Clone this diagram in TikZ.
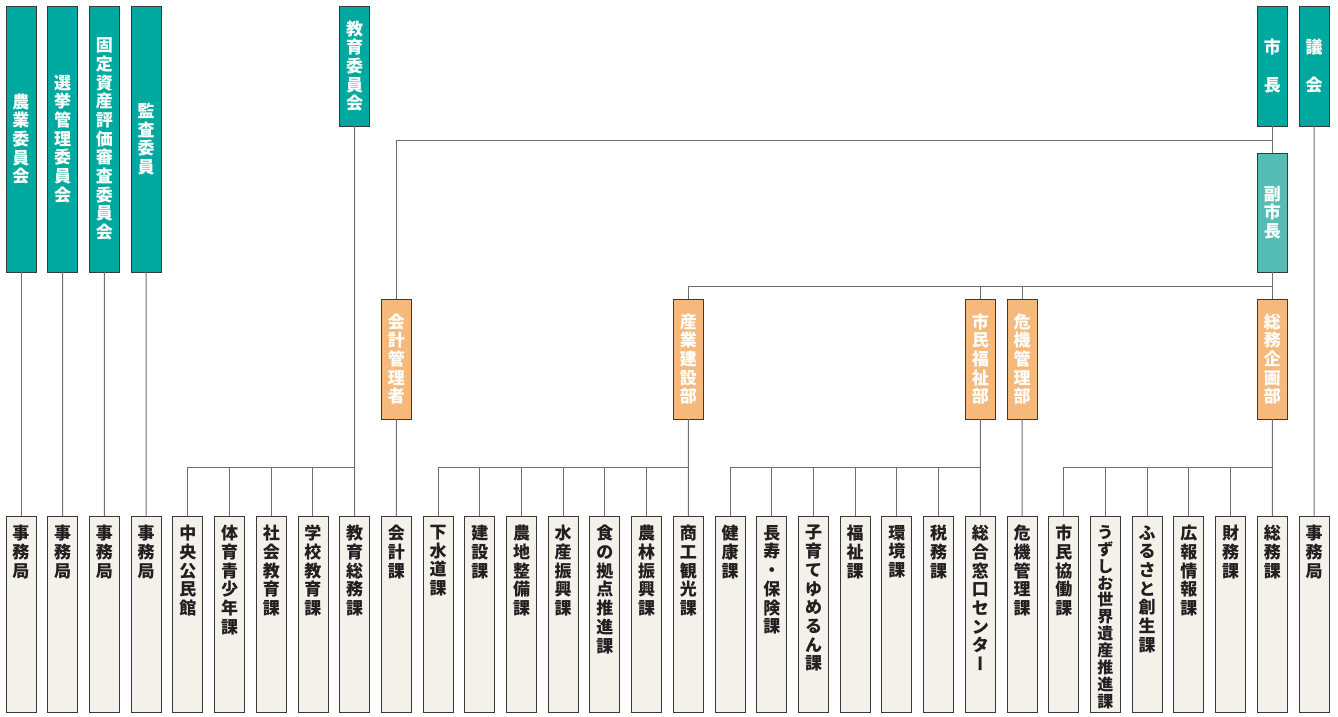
\documentclass[tikz,border=0pt]{standalone}
\usepackage{fontspec}
\setmainfont{Noto Sans CJK JP}
\usetikzlibrary{calc}
\definecolor{tealA}{HTML}{00A99F}
\definecolor{tealB}{HTML}{55BDB5}
\definecolor{orng}{HTML}{F6B97C}
\definecolor{cream}{HTML}{F4F1EA}
\definecolor{edge}{HTML}{3A3A3A}
\definecolor{wire}{HTML}{6E6E6E}
\definecolor{ink}{HTML}{231F20}
\newcommand\fnt{\fontsize{17}{18.7}\selectfont\bfseries}
\tikzset{
 vbox/.style={draw=edge, line width=0.9pt, minimum width=30pt, inner sep=0pt, outer sep=0pt, align=center},
 topbox/.style={vbox, fill=tealA, text=white, minimum height=266pt, font=\fnt},
 shortbox/.style={vbox, fill=tealA, text=white, minimum height=120pt, font=\fnt},
 vicebox/.style={vbox, fill=tealB, text=white, minimum height=119pt, font=\fnt},
 deptbox/.style={vbox, fill=orng, text=white, minimum height=120pt, font=\fnt},
 lowbox/.style={vbox, fill=cream, minimum height=196pt},
 lowtext/.style={anchor=north, inner sep=0pt, align=center, text=ink, font=\fnt},
 wire/.style={draw=wire, line width=1pt}
}
\newcommand\lowunit[3]{%
 \node[lowbox] (#1) at ({21+(#2-1)*41.71},614) {};
 \node[lowtext] (#1t) at ([yshift=-9pt]#1.north) {#3};}
\newcommand\vbar{{\addfontfeature{RawFeature=+vert}ー}}
\begin{document}
\begin{tikzpicture}[x=1pt,y=-1pt]
\useasboundingbox (0,0) rectangle (1338,716);
% top committees
\node[topbox] (t1) at (21,139) {農\\業\\委\\員\\会};
\node[topbox] (t2) at (62.7,139) {選\\挙\\管\\理\\委\\員\\会};
\node[topbox] (t3) at (104.4,139) {固\\定\\資\\産\\評\\価\\審\\査\\委\\員\\会};
\node[topbox] (t4) at (146.1,139) {監\\査\\委\\員};
\node[shortbox] (kyoi) at (354.7,66) {教\\育\\委\\員\\会};
\node[shortbox, font=\fontsize{17}{37.5}\selectfont\bfseries] (mayor) at (1272.3,66) {市\\長};
\node[shortbox, font=\fontsize{17}{37.5}\selectfont\bfseries] (gikai) at (1314,66) {議\\会};
\node[vicebox] (vice) at (1272.3,212.5) {副\\市\\長};
% departments
\node[deptbox] (kaikei) at (396.4,359) {会\\計\\管\\理\\者};
\node[deptbox] (sangyo) at (688.4,359) {産\\業\\建\\設\\部};
\node[deptbox] (fukushi) at (980.3,359) {市\\民\\福\\祉\\部};
\node[deptbox] (kiki) at (1022,359) {危\\機\\管\\理\\部};
\node[deptbox] (somu) at (1272.3,359) {総\\務\\企\\画\\部};
% bottom units
\lowunit{b1}{1}{事\\務\\局}
\lowunit{b2}{2}{事\\務\\局}
\lowunit{b3}{3}{事\\務\\局}
\lowunit{b4}{4}{事\\務\\局}
\lowunit{b5}{5}{中\\央\\公\\民\\館}
\lowunit{b6}{6}{体\\育\\青\\少\\年\\課}
\lowunit{b7}{7}{社\\会\\教\\育\\課}
\lowunit{b8}{8}{学\\校\\教\\育\\課}
\lowunit{b9}{9}{教\\育\\総\\務\\課}
\lowunit{b10}{10}{会\\計\\課}
\lowunit{b11}{11}{下\\水\\道\\課}
\lowunit{b12}{12}{建\\設\\課}
\lowunit{b13}{13}{農\\地\\整\\備\\課}
\lowunit{b14}{14}{水\\産\\振\\興\\課}
\lowunit{b15}{15}{食\\の\\拠\\点\\推\\進\\課}
\lowunit{b16}{16}{農\\林\\振\\興\\課}
\lowunit{b17}{17}{商\\工\\観\\光\\課}
\lowunit{b18}{18}{健\\康\\課}
\lowunit{b19}{19}{長\\寿\\・\\保\\険\\課}
\lowunit{b20}{20}{子\\育\\て\\ゆ\\め\\る\\ん\\課}
\lowunit{b21}{21}{福\\祉\\課}
\lowunit{b22}{22}{環\\境\\課}
\lowunit{b23}{23}{税\\務\\課}
\lowunit{b24}{24}{総\\合\\窓\\口\\セ\\ン\\タ\\\vbar}
\lowunit{b25}{25}{危\\機\\管\\理\\課}
\lowunit{b26}{26}{市\\民\\協\\働\\課}
\node[lowbox] (b27) at ({21+26*41.71},614) {};
\node[lowtext, font=\fontsize{16}{16.9}\selectfont\bfseries] (b27t) at ([yshift=-9pt]b27.north) {う\\ず\\し\\お\\世\\界\\遺\\産\\推\\進\\課};
\lowunit{b28}{28}{ふ\\る\\さ\\と\\創\\生\\課}
\lowunit{b29}{29}{広\\報\\情\\報\\課}
\lowunit{b30}{30}{財\\務\\課}
\lowunit{b31}{31}{総\\務\\課}
\lowunit{b32}{32}{事\\務\\局}
% connectors
\coordinate (busy) at (0,467);
\foreach \i in {1,...,4} {\draw[wire] (t\i) -- (b\i);}
\draw[wire] (kyoi) -- (b9);
\draw[wire] (b5.north) -- (b5.north |- busy) -- (b9.north |- busy);
\foreach \i in {6,7,8} {\draw[wire] (b\i.north) -- (b\i.north |- busy);}
\draw[wire] (mayor) -- (vice);
\coordinate (j1) at ($(mayor.south)+(0,14)$);
\draw[wire] (j1) -| (kaikei.north);
\draw[wire] (kaikei) -- (b10);
\coordinate (j2) at ($(vice.south)+(0,14)$);
\draw[wire] (vice) -- (somu);
\draw[wire] (j2) -| (sangyo.north);
\draw[wire] (fukushi.north) -- (fukushi.north |- j2);
\draw[wire] (kiki.north) -- (kiki.north |- j2);
\draw[wire] (sangyo) -- (b17);
\draw[wire] (b11.north) -- (b11.north |- busy) -- (b17.north |- busy);
\foreach \i in {12,...,16} {\draw[wire] (b\i.north) -- (b\i.north |- busy);}
\draw[wire] (fukushi) -- (b24);
\draw[wire] (b18.north) -- (b18.north |- busy) -- (b24.north |- busy);
\foreach \i in {19,...,23} {\draw[wire] (b\i.north) -- (b\i.north |- busy);}
\draw[wire] (kiki) -- (b25);
\draw[wire] (somu) -- (b31);
\draw[wire] (b26.north) -- (b26.north |- busy) -- (b31.north |- busy);
\foreach \i in {27,...,30} {\draw[wire] (b\i.north) -- (b\i.north |- busy);}
\draw[wire] (gikai) -- (b32);
\end{tikzpicture}
\end{document}
